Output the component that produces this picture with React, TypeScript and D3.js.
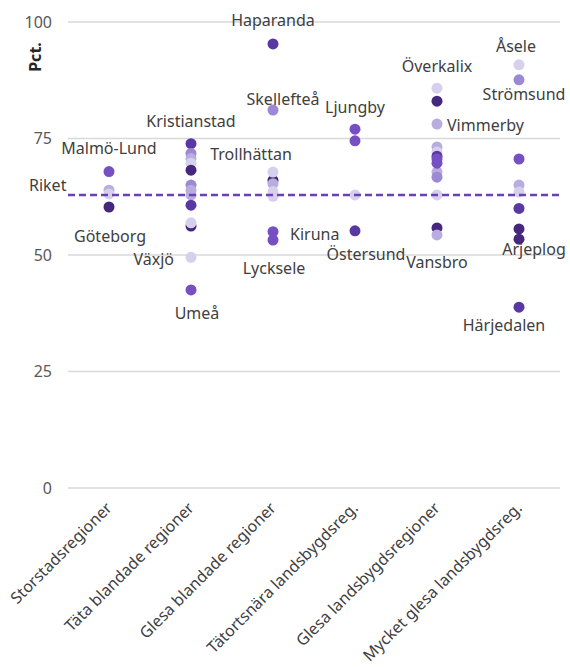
import React from "react";
import * as d3 from "d3";

// ---------- DATA ----------
const categories = [
  "Storstadsregioner",
  "Täta blandade regioner",
  "Glesa blandade regioner",
  "Tätortsnära landsbygdsreg.",
  "Glesa landsbygdsregioner",
  "Mycket glesa landsbygdsreg.",
];

const yTicks = [0, 25, 50, 75, 100];
const riket = 62.9;

// values per category (pct.)
const valuesStorstad = [67.9, 63.9, 63.1, 60.3];
const valuesTata = [73.9, 71.8, 70.7, 69.7, 68.2, 65.0, 63.9, 62.9, 60.7, 56.2, 56.9, 49.5, 42.5];
const valuesGlesaBl = [95.3, 81.1, 66.0, 67.8, 65.3, 63.6, 62.6, 55.0, 53.2];
const valuesTatorts = [77.0, 74.5, 62.9, 55.2];
const valuesGlesaLb = [85.8, 83.0, 78.1, 73.2, 72.1, 67.8, 66.7, 71.2, 70.6, 69.7, 62.9, 55.8, 54.3];
const valuesMycket = [90.8, 87.6, 70.6, 65.0, 63.5, 60.0, 55.6, 53.4, 38.8];

// shade index per point (0 = darkest … 5 = lightest)
const shadesStorstad = [2, 4, 5, 0];
const shadesTata = [1, 3, 4, 5, 0, 3, 4, 4, 1, 0, 5, 5, 2];
const shadesGlesaBl = [1, 3, 0, 5, 4, 5, 5, 2, 2];
const shadesTatorts = [2, 2, 5, 1];
const shadesGlesaLb = [5, 0, 4, 4, 5, 4, 3, 1, 2, 2, 5, 0, 4];
const shadesMycket = [5, 3, 2, 4, 5, 1, 0, 0, 1];

const seriesValues = [valuesStorstad, valuesTata, valuesGlesaBl, valuesTatorts, valuesGlesaLb, valuesMycket];
const seriesShades = [shadesStorstad, shadesTata, shadesGlesaBl, shadesTatorts, shadesGlesaLb, shadesMycket];

// labelled municipalities: name, category index, value of the labelled point
const labelNames = [
  "Malmö-Lund", "Göteborg", "Kristianstad", "Växjö", "Umeå",
  "Haparanda", "Skellefteå", "Trollhättan", "Kiruna", "Lycksele",
  "Ljungby", "Östersund", "Överkalix", "Vimmerby", "Vansbro",
  "Åsele", "Strömsund", "Arjeplog", "Härjedalen",
];
const labelCats = [0, 0, 1, 1, 1, 2, 2, 2, 2, 2, 3, 3, 4, 4, 4, 5, 5, 5, 5];
const labelValues = [67.9, 60.3, 73.9, 49.5, 42.5, 95.3, 81.1, 67.8, 55.0, 53.2, 77.0, 55.2, 85.8, 78.1, 54.3, 90.8, 87.6, 53.4, 38.8];

// ---------- LAYOUT / STYLE ----------
const W = 570;
const H = 669;
const M = { left: 68, right: 10, top: 22, bottom: 181 };
const palette = ["#45287d", "#5a38a3", "#7650c2", "#9d88d3", "#b9acdf", "#d7d0ec"];
const FONT = "'Noto Sans', sans-serif";
const TEXT = "#404040";

// label offsets relative to the labelled point: [dx, dy, anchor]
const labelLayout: [number, number, string][] = [
  [0, -23, "middle"], // Malmö-Lund
  [1, 29, "middle"], // Göteborg
  [0, -22, "middle"], // Kristianstad
  [-17, 2, "end"], // Växjö
  [6, 23, "middle"], // Umeå
  [0, -24, "middle"], // Haparanda
  [10, -11, "middle"], // Skellefteå
  [-22, -18, "middle"], // Trollhättan
  [17, 3, "start"], // Kiruna
  [1, 28, "middle"], // Lycksele
  [0, -22, "middle"], // Ljungby
  [11, 24, "middle"], // Östersund
  [0, -22, "middle"], // Överkalix
  [10, 1, "start"], // Vimmerby
  [0, 27, "middle"], // Vansbro
  [-3, -18, "middle"], // Åsele
  [5, 15, "middle"], // Strömsund
  [15, 10, "middle"], // Arjeplog
  [-15, 18, "middle"], // Härjedalen
];

export default function App() {
  const x = d3
    .scaleBand<string>()
    .domain(categories)
    .range([M.left, W - M.right])
    .padding(0);
  const y = d3.scaleLinear().domain([0, 100]).range([H - M.bottom, M.top]);
  const cx = (i: number) => (x(categories[i]) as number) + x.bandwidth() / 2;

  const [x0, x1] = x.range();

  return (
    <svg
      width={W}
      height={H}
      style={{ position: "absolute", left: 0, top: 0, background: "#fff" }}
      fontFamily={FONT}
    >
      {/* gridlines */}
      {yTicks.map((t) => (
        <g key={t}>
          <line x1={x0} x2={x1} y1={y(t)} y2={y(t)} stroke="#d9d9d9" strokeWidth={1.5} />
          <text x={52} y={y(t)} dy="0.35em" textAnchor="end" fontSize={16} fill="#595959">
            {t}
          </text>
        </g>
      ))}

      {/* y-axis title */}
      <text
        transform={`translate(41,57) rotate(-90)`}
        textAnchor="middle"
        fontSize={16}
        fontWeight="bold"
        fill="#262626"
      >
        Pct.
      </text>

      {/* points */}
      {seriesValues.map((vals, ci) =>
        vals.map((v, pi) => (
          <circle
            key={`${ci}-${pi}`}
            cx={cx(ci)}
            cy={y(v)}
            r={5.5}
            fill={palette[seriesShades[ci][pi]]}
          />
        ))
      )}

      {/* Riket line */}
      <line
        x1={x0}
        x2={x1}
        y1={y(riket)}
        y2={y(riket)}
        stroke="#6b3fb8"
        strokeWidth={2.5}
        strokeDasharray="7,4"
      />
      <text x={29} y={y(riket) - 9} dy="0.35em" fontSize={16} fill={TEXT}>
        Riket
      </text>

      {/* point labels */}
      {labelNames.map((n, i) => {
        const [dx, dy, anchor] = labelLayout[i];
        return (
          <text
            key={n}
            x={cx(labelCats[i]) + dx}
            y={y(labelValues[i]) + dy}
            dy="0.35em"
            textAnchor={anchor as any}
            fontSize={16}
            fill={TEXT}
          >
            {n}
          </text>
        );
      })}

      {/* category labels */}
      {categories.map((c, i) => (
        <text
          key={c}
          transform={`translate(${cx(i) + 4},${H - M.bottom + 21}) rotate(-45)`}
          textAnchor="end"
          fontSize={16}
          fill={TEXT}
        >
          {c}
        </text>
      ))}
    </svg>
  );
}
